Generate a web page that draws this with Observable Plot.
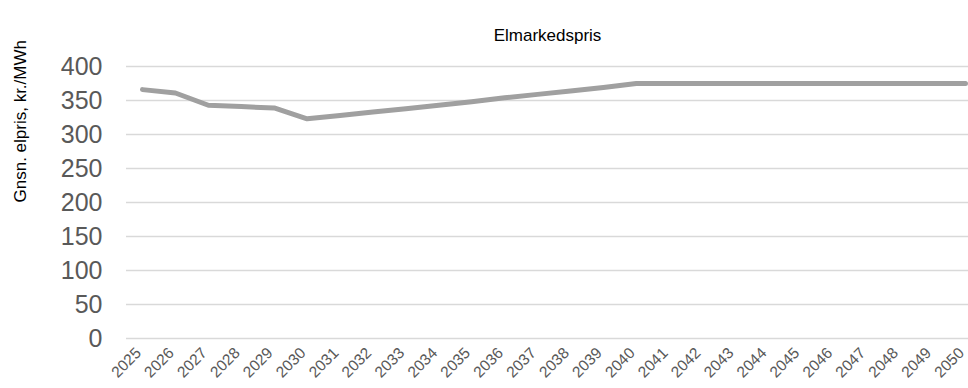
<!DOCTYPE html>
<html>
<head>
<meta charset="utf-8">
<script src="https://cdn.jsdelivr.net/npm/d3@7"></script>
<script src="https://cdn.jsdelivr.net/npm/@observablehq/plot@0.6"></script>
<style>
  html, body { margin: 0; padding: 0; background: #fff; }
  svg { display: block; font-family: "Liberation Sans", Arial, sans-serif; }
</style>
</head>
<body>
<div id="chart"></div>
<script>
const title = "Elmarkedspris";
const yLabel = "Gnsn. elpris, kr./MWh";
const years = ["2025","2026","2027","2028","2029","2030","2031","2032","2033","2034","2035","2036","2037","2038","2039","2040","2041","2042","2043","2044","2045","2046","2047","2048","2049","2050"];
const prices = [366, 361, 343, 341, 339, 323, 328, 333, 338, 343, 348, 354, 359, 364, 369, 375, 375, 375, 375, 375, 375, 375, 375, 375, 375, 375];
const yTicks = [0, 50, 100, 150, 200, 250, 300, 350, 400];

const data = years.map((y, i) => ({year: y, price: prices[i]}));

const chart = Plot.plot({
  width: 968,
  height: 388,
  marginTop: 66,
  marginBottom: 50,
  marginLeft: 126,
  marginRight: 0,
  style: {fontFamily: "'Liberation Sans', Arial, sans-serif", background: "#fff"},
  x: {type: "point", domain: years, range: [142, 965], padding: 0, round: false},
  y: {domain: [0, 400]},
  marks: [
    Plot.ruleY(yTicks, {stroke: "#d9d9d9", strokeWidth: 1.5}),
    Plot.axisY({ticks: yTicks, tickSize: 0, tickPadding: 24, fontSize: 25, fill: "#595959", label: null}),
    Plot.axisX({tickSize: 0, tickPadding: 12, tickRotate: -45, dx: -4, fontSize: 15.5, fill: "#595959", label: null}),
    Plot.line(data, {x: "year", y: "price", stroke: "#a0a0a0", strokeWidth: 5, strokeLinecap: "round", strokeLinejoin: "round"}),
    Plot.text([title], {frameAnchor: "top", dy: -38, fontSize: 17, fill: "#000"}),
    Plot.text([yLabel], {frameAnchor: "left", dx: -106, rotate: -90, fontSize: 17, fill: "#000"})
  ]
});
document.getElementById("chart").appendChild(chart);
</script>
</body>
</html>
